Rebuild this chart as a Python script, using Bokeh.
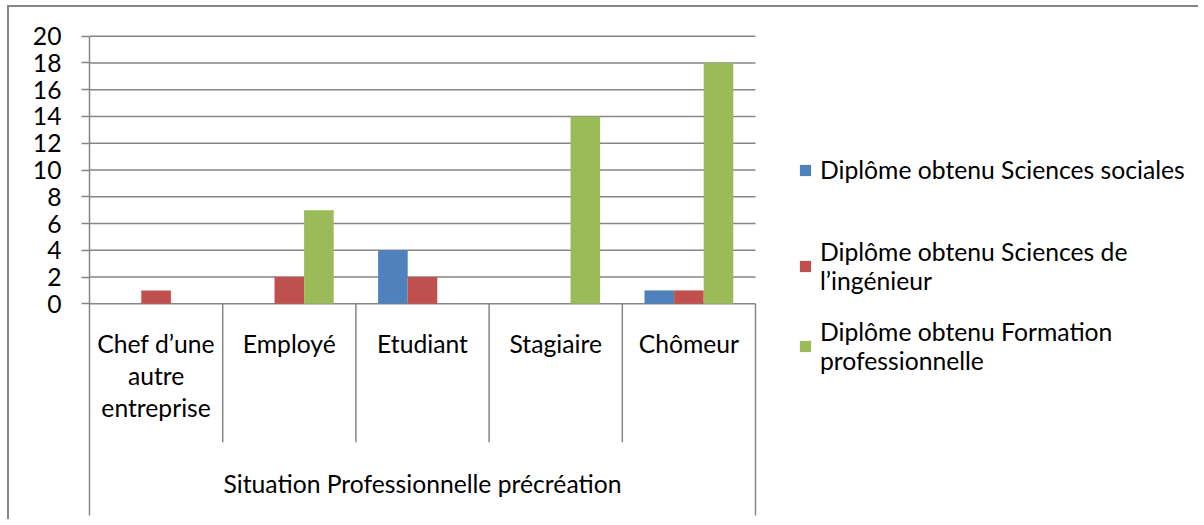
import numpy as np
from bokeh.plotting import figure
from bokeh.models import Range1d, FixedTicker, Legend, LegendItem
from bokeh.core.properties import value
from bokeh.embed import file_html
from bokeh.resources import INLINE

# ---------------- data ----------------
categories = ["Chef d’une\nautre\nentreprise", "Employé", "Etudiant", "Stagiaire", "Chômeur"]
group_label = "Situation Professionnelle précréation"
series_labels = ["Diplôme obtenu Sciences sociales",
                 "Diplôme obtenu Sciences de\nl’ingénieur",
                 "Diplôme obtenu Formation\nprofessionnelle"]
sciences_sociales = [0, 0, 4, 0, 1]
sciences_ingenieur = [1, 2, 2, 0, 1]
formation_professionnelle = [0, 7, 0, 14, 18]
y_ticks = [0, 2, 4, 6, 8, 10, 12, 14, 16, 18, 20]
colors = ["#4F81BD", "#C0504D", "#9BBB59"]

series = [sciences_sociales, sciences_ingenieur, formation_professionnelle]

# ---------------- layout (page pixels) ----------------
PAGE_W, PAGE_H = 1200, 521
OX, OY = 9, 7                            # canvas origin on the page (after the chart-area border)
W, H = PAGE_W - OX, PAGE_H - OY
X_LEFT_PX, X_RIGHT_PX = 89.0, 755.0      # x = 0 and x = n
Y_ZERO_PX, Y_TOP_PX = 303.3, 35.7        # y = 0 and y = max tick
GRID = "#868686"
FONT = "Lato"
FS = "24.7px"

n = len(categories)
ymax = y_ticks[-1]
ppx = (X_RIGHT_PX - X_LEFT_PX) / n
ppy = (Y_ZERO_PX - Y_TOP_PX) / ymax


def xd(px):
    return (px - X_LEFT_PX) / ppx


def yd(py):
    return (Y_ZERO_PX - py) / ppy


p = figure(width=W, height=H, output_backend="svg", toolbar_location=None,
           x_range=Range1d(0, xd(PAGE_W)),
           y_range=Range1d(yd(PAGE_H), yd(OY)),
           x_axis_type=None,
           min_border_left=int(X_LEFT_PX - OX), min_border_right=0,
           min_border_top=0, min_border_bottom=0)
p.styles = {"margin-left": "7px", "margin-top": "5px",
            "border-left": f"2px solid {GRID}", "border-top": f"2px solid {GRID}"}
p.background_fill_color = "white"
p.border_fill_color = "white"
p.outline_line_color = None
p.grid.visible = False

# y axis
ax = p.yaxis[0]
ax.ticker = FixedTicker(ticks=y_ticks)
ax.bounds = (yd(515), ymax)
ax.axis_line_color = GRID
ax.axis_line_width = 1.5
ax.major_tick_line_color = GRID
ax.major_tick_line_width = 1.5
ax.major_tick_out = 8
ax.major_tick_in = 0
ax.minor_tick_line_color = None
ax.major_label_standoff = 20
ax.major_label_text_font = FONT
ax.major_label_text_font_size = FS
ax.major_label_text_color = "#000000"

# gridlines
gt = y_ticks[1:]
p.segment(x0=[0] * len(gt), x1=[n] * len(gt), y0=gt, y1=gt, line_color=GRID, line_width=1.5)
# category axis line
p.segment(x0=[0], x1=[n], y0=[0], y1=[0], line_color=GRID, line_width=1.5)
# category separators
inner = list(range(1, n))
p.segment(x0=inner, x1=inner, y0=[0] * len(inner), y1=[yd(441.7)] * len(inner),
          line_color=GRID, line_width=1.5)
p.segment(x0=[n], x1=[n], y0=[0], y1=[yd(515)], line_color=GRID, line_width=1.5)

# bars
bw = 1 / 4.5
centers = np.arange(n) + 0.5
renderers = []
for k, vals in enumerate(series):
    r = p.vbar(x=centers + (k - 1) * bw, top=vals, bottom=0, width=bw,
               fill_color=colors[k], line_color=None)
    renderers.append(r)

# category labels
p.text(x=centers, y=[yd(328.5)] * n, text=categories, text_align="center", text_baseline="top",
       text_font=value(FONT), text_font_size=FS, text_color="#000000", text_line_height=1.1)
p.text(x=[n / 2], y=[yd(483.3)], text=[group_label], text_align="center", text_baseline="middle",
       text_font=value(FONT), text_font_size=FS, text_color="#000000")

# legends (one per entry so that each can be placed like the original)
legend_bottoms = [341 - (525 - PAGE_H), 230 - (525 - PAGE_H), 150 - (525 - PAGE_H)]
for k, r in enumerate(renderers):
    lg = Legend(items=[LegendItem(label=series_labels[k], renderers=[r])],
                location=(798 - X_LEFT_PX, legend_bottoms[k]),
                border_line_color=None, background_fill_alpha=0, padding=0, margin=0,
                glyph_width=14, glyph_height=14, label_standoff=8,
                label_text_font=FONT, label_text_font_size=FS, label_text_color="#000000")
    p.add_layout(lg)

open("out.html", "w").write(file_html(p, INLINE, "chart"))
